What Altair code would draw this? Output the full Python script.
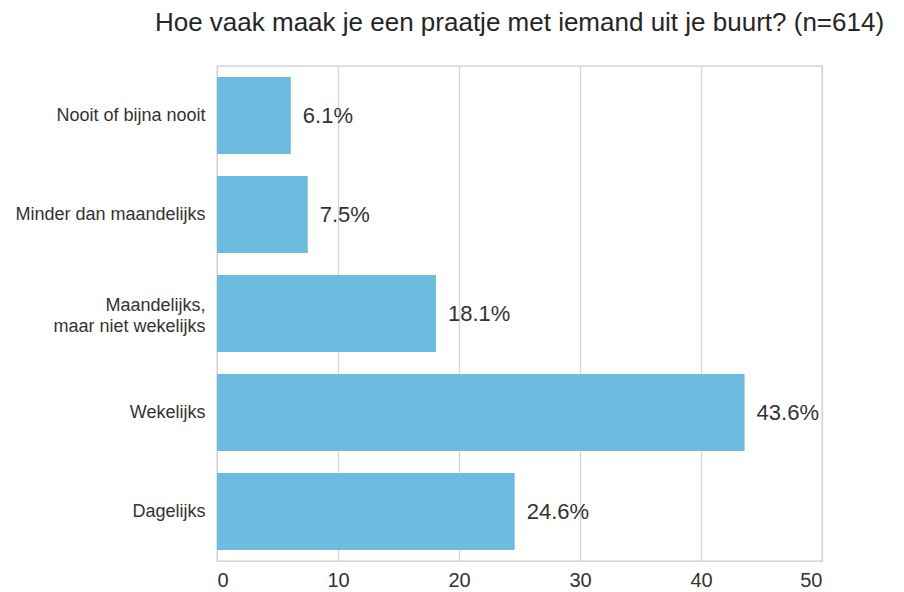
import altair as alt
import pandas as pd

categories = ["Nooit of bijna nooit", "Minder dan maandelijks", "Maandelijks, maar niet wekelijks", "Wekelijks", "Dagelijks"]
values = [6.1, 7.5, 18.1, 43.6, 24.6]
labels = ["6.1%", "7.5%", "18.1%", "43.6%", "24.6%"]
x_ticks = [0, 10, 20, 30, 40, 50]

df = pd.DataFrame({"cat": categories, "value": values, "label": labels})

FONT = "Liberation Sans"
MULTI = "Maandelijks, maar niet wekelijks"

y_enc = alt.Y(
    "cat:N",
    sort=categories,
    title=None,
    scale=alt.Scale(paddingInner=0.22, paddingOuter=0.11),
    axis=alt.Axis(
        labelExpr=f"datum.value == '{MULTI}' ? ['Maandelijks,', 'maar niet wekelijks'] : datum.value",
        labelFontSize=18,
        labelColor="#333333",
        labelFont=FONT,
        labelPadding=12,
        labelOffset={"condition": {"test": f"datum.value == '{MULTI}'", "value": -8}, "value": 0},
        ticks=False,
        domain=False,
        grid=False,
        labelLimit=300,
        labelLineHeight=21,
    ),
)

x_enc = alt.X(
    "value:Q",
    title=None,
    scale=alt.Scale(domain=[0, 50], nice=False),
    axis=alt.Axis(
        values=x_ticks,
        labelFontSize=20,
        labelColor="#333333",
        labelFont=FONT,
        labelPadding=9,
        ticks=False,
        domain=False,
        grid=True,
        gridColor="#d6d6d6",
        gridWidth=1.3,
    ),
)

bars = alt.Chart(df).mark_bar(color="#6dbbde").encode(x=x_enc, y=y_enc)
text = alt.Chart(df).mark_text(
    align="left", baseline="middle", dx=12, fontSize=22, color="#333333", font=FONT
).encode(x="value:Q", y=alt.Y("cat:N", sort=categories), text="label:N")

chart = (
    alt.layer(bars, text)
    .properties(
        width=605,
        height=495,
        autosize=alt.AutoSizeParams(type="none"),
        padding={"left": 209, "top": 58, "right": 72, "bottom": 30},
        title=alt.TitleParams(
            "Hoe vaak maak je een praatje met iemand uit je buurt? (n=614)",
            fontSize=26,
            font=FONT,
            fontWeight="normal",
            color="#262626",
            anchor="middle",
            offset=30,
        ),
    )
    .configure_view(stroke="#cccccc", strokeWidth=1.3)
)

chart.save("out.html", embed_options={"renderer": "svg", "actions": False})
